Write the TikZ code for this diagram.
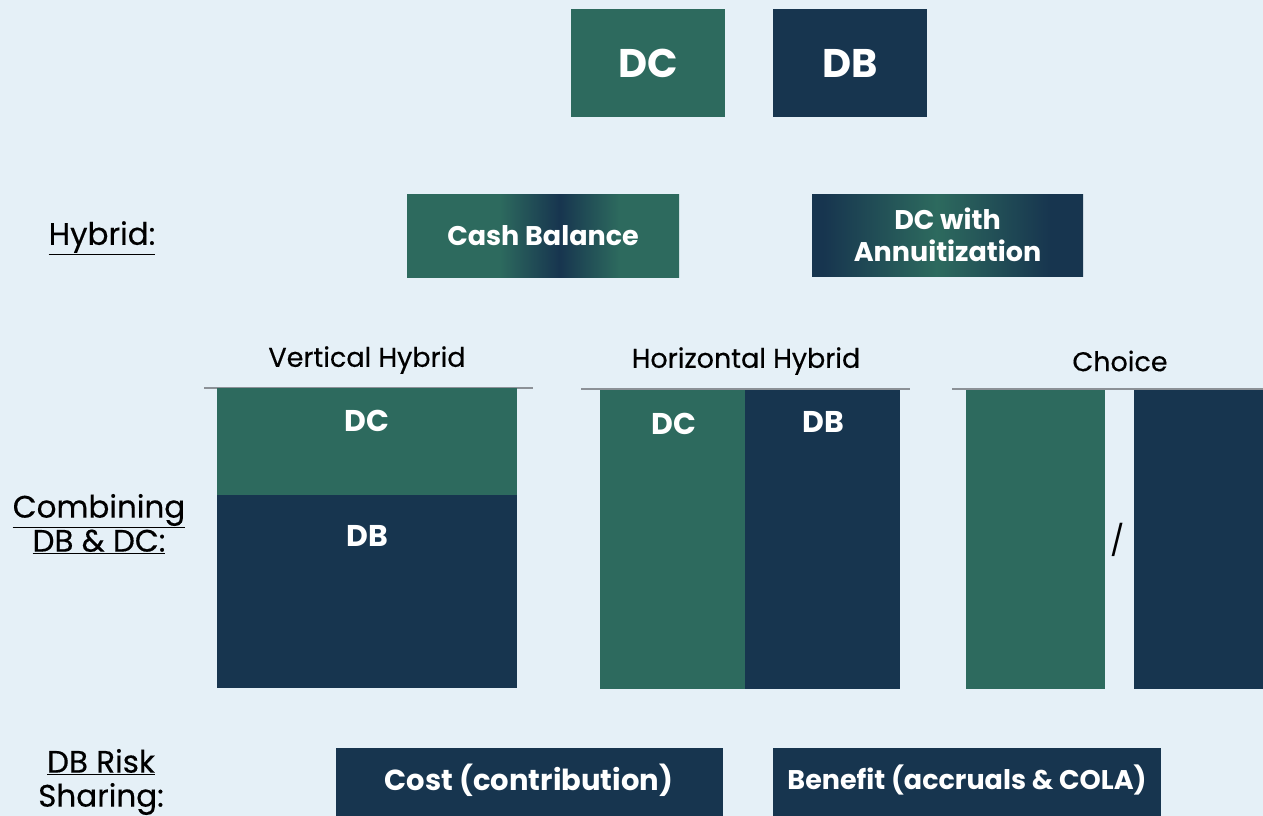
\documentclass[tikz,border=0pt]{standalone}
\usepackage{fontspec}
\setmainfont{Poppins}
\newfontfamily\mediumfont{Poppins}[FakeBold=0.35]
\definecolor{dcgreen}{HTML}{2D6A5E}
\definecolor{dbnavy}{HTML}{17354F}
\definecolor{bgblue}{HTML}{E5F0F7}
\definecolor{rulegray}{HTML}{8C9197}
\pgfdeclarehorizontalshading{cashbal}{100bp}{color(0bp)=(dcgreen); color(25bp)=(dcgreen); color(42bp)=(dcgreen); color(53bp)=(dbnavy); color(64bp)=(dcgreen); color(100bp)=(dcgreen)}
\pgfdeclarehorizontalshading{dcannu}{100bp}{color(0bp)=(dbnavy); color(27bp)=(dbnavy); color(48bp)=(dcgreen); color(69bp)=(dbnavy); color(100bp)=(dbnavy)}
\tikzset{
    plan/.style={inner sep=0pt, outer sep=0pt, anchor=north west},
    dcbox/.style={plan, fill=dcgreen},
    dbbox/.style={plan, fill=dbnavy},
    boxtext/.style={text=white, font=\bfseries\fontsize{#1}{#1}\selectfont, align=center},
    rowlabel/.style={font=\mediumfont\fontsize{31}{34}\selectfont, align=center},
    colhead/.style={font=\mediumfont\fontsize{27}{30}\selectfont},
    headrule/.style={rulegray, line width=2pt}
}
\begin{document}
\begin{tikzpicture}[x=1pt, y=-1pt]
    \fill[bgblue] (0,0) rectangle (1263,816);
    \useasboundingbox (0,0) rectangle (1263,816);

    % plain plans
    \node[dcbox, minimum width=154pt, minimum height=108pt, boxtext=40] (topdc) at (571,9) {DC};
    \node[dbbox, minimum width=154pt, minimum height=108pt, boxtext=40] (topdb) at (773,9) {DB};

    % hybrid plans
    \node[rowlabel] (hybrid) at (102,238) {\underline{Hybrid:}};
    \node[plan, shade, shading=cashbal, minimum width=272pt, minimum height=83pt, boxtext=27] (cash) at (407,194) {Cash Balance};
    \node[plan, shade, shading=dcannu, minimum width=271pt, minimum height=82pt, boxtext=27] (annu) at (812,194) {DC with\\[5pt]Annuitization};

    % combining DB & DC
    \node[rowlabel] (combine) at (99,524) {\underline{Combining}\\\underline{DB \& DC:}};

    \node[colhead] (vhead) at (367,360) {Vertical Hybrid};
    \coordinate (vl) at (204,388);
    \coordinate (vr) at (533,388);
    \draw[headrule] (vl) -- (vr);
    \node[dcbox, minimum width=300pt, minimum height=107pt] (vdc) at (217,388) {};
    \node[dbbox, minimum width=300pt, minimum height=193pt] (vdb) at (217,495) {};
    \node[boxtext=30] (vdctext) at (367,421) {DC};
    \node[boxtext=30] (vdbtext) at (367,536) {DB};

    \node[colhead] (hhead) at (746,361) {Horizontal Hybrid};
    \coordinate (hl) at (581,389);
    \coordinate (hr) at (910,389);
    \draw[headrule] (hl) -- (hr);
    \node[dcbox, minimum width=145pt, minimum height=299pt] (hdc) at (600,390) {};
    \node[dbbox, minimum width=155pt, minimum height=299pt] (hdb) at (745,390) {};
    \node[boxtext=30] (hdctext) at (674,424) {DC};
    \node[boxtext=30] (hdbtext) at (823,422) {DB};

    \node[colhead] (chead) at (1120,361) {Choice};
    \coordinate (cl) at (952,389);
    \coordinate (cr) at (1263,389);
    \draw[headrule] (cl) -- (cr);
    \node[dcbox, minimum width=139pt, minimum height=299pt] (cdc) at (966,390) {};
    \node[dbbox, minimum width=140pt, minimum height=299pt] (cdb) at (1134,390) {};
    \node[font=\fontsize{30}{30}\selectfont] (slash) at (1118,540) {/};

    % DB risk sharing
    \node[rowlabel] (risk) at (101,783) {\underline{DB Risk}\\\underline{Sharing:}};
    \node[dbbox, minimum width=387pt, minimum height=90pt] (cost) at (336,748) {};
    \node[dbbox, minimum width=388pt, minimum height=90pt] (bene) at (773,748) {};
    \node[boxtext=29] (costtext) at (529,780) {Cost (contribution)};
    \node[boxtext=27] (benetext) at (967,780) {Benefit (accruals \& COLA)};
\end{tikzpicture}
\end{document}
